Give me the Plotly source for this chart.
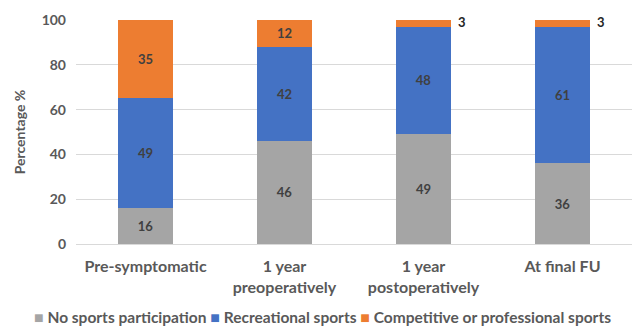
import plotly.graph_objects as go

categories = ["Pre-symptomatic", "1 year<br>preoperatively", "1 year<br>postoperatively", "At final FU"]
no_sports = [16, 46, 49, 36]
recreational = [49, 42, 48, 61]
competitive = [35, 12, 3, 3]

series = [
    ("No sports participation", no_sports, "#A5A5A5"),
    ("Recreational sports", recreational, "#4472C4"),
    ("Competitive or professional sports", competitive, "#ED7D31"),
]

FONT = "Lato"
LABEL_COLOR = "#404040"
TICK_COLOR = "#595959"

fig = go.Figure()
for name, vals, color in series:
    # small segments get their labels placed beside the bar instead
    texts = [str(v) if v >= 8 else "" for v in vals]
    fig.add_trace(go.Bar(
        name=name, x=categories, y=vals, marker_color=color,
        marker_line_width=0, width=0.4,
        text=texts, textposition="inside", insidetextanchor="middle",
        textangle=0,
        textfont=dict(family=FONT, size=13, color=LABEL_COLOR, weight="bold"),
        hoverinfo="skip", showlegend=False,
    ))

# outside labels for thin top segments
for i, cat in enumerate(categories):
    v = competitive[i]
    if v < 8:
        base = no_sports[i] + recreational[i]
        fig.add_annotation(
            x=cat, y=base + v / 2, text=str(v), showarrow=False,
            xshift=38, yshift=1,
            font=dict(family=FONT, size=13, color="#262626", weight="bold"),
        )

# single-line legend built from the series names and colours
legend_text = " ".join(
    f"<span style='color:{color};font-size:16px'>■</span> {name}" for name, _, color in series
)
fig.add_annotation(
    xref="paper", yref="paper", x=0.444, y=-0.325,
    xanchor="center", yanchor="middle", showarrow=False,
    text=legend_text,
    font=dict(family=FONT, size=15.5, color=TICK_COLOR, weight="bold"),
)

fig.update_layout(
    barmode="stack",
    width=635, height=331,
    margin=dict(l=76, r=3, t=20, b=87, autoexpand=False),
    plot_bgcolor="white", paper_bgcolor="white",
    bargap=0.6,
    font=dict(family=FONT, color=TICK_COLOR),
    showlegend=False,
)
fig.update_yaxes(
    range=[0, 100], tickvals=[0, 20, 40, 60, 80, 100],
    showgrid=True, gridcolor="#D9D9D9", gridwidth=1,
    zeroline=True, zerolinecolor="#D9D9D9", zerolinewidth=1,
    showline=False, ticks="", ticklabelstandoff=9,
    tickfont=dict(family=FONT, size=14, color=TICK_COLOR, weight="bold"),
    title=dict(text="Percentage %", standoff=12,
               font=dict(family=FONT, size=14, color=TICK_COLOR, weight="bold")),
)
fig.update_xaxes(
    showgrid=False, showline=False, ticks="",
    ticklabelstandoff=11,
    tickfont=dict(family=FONT, size=16, color=TICK_COLOR, weight="bold"),
)

fig.write_html("out.html")
